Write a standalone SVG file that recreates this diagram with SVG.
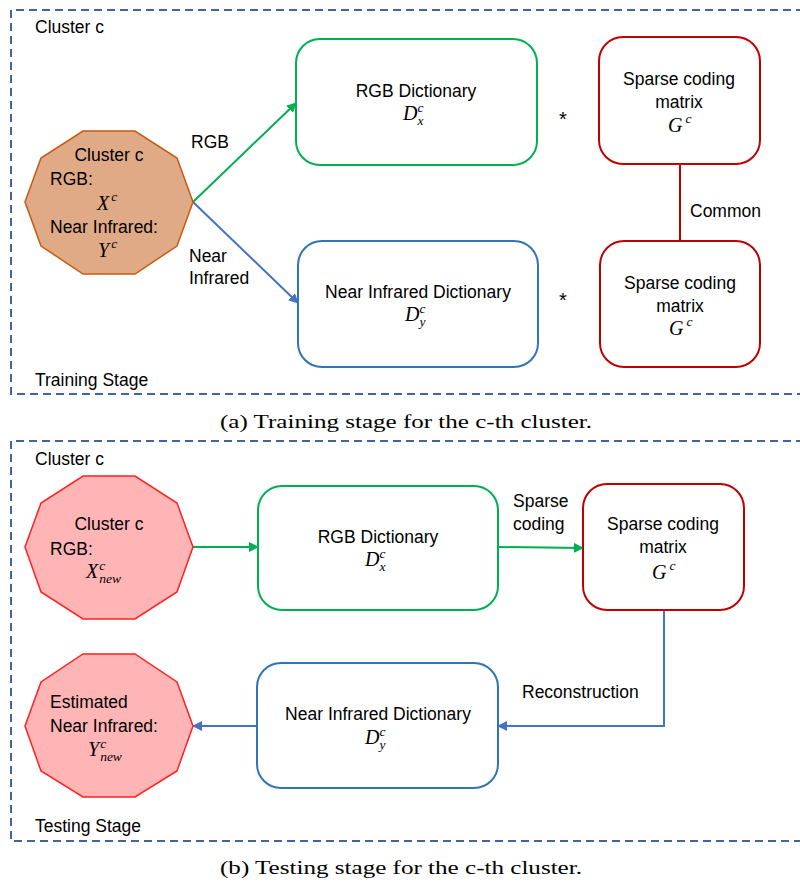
<svg xmlns="http://www.w3.org/2000/svg" width="800" height="883" viewBox="0 0 800 883">
<defs>
<style>
.t{font-family:"Liberation Sans","Open Sans",sans-serif;font-size:17.5px;fill:#000}
.m{font-family:"Liberation Serif","Times New Roman",serif;font-style:italic;font-size:20px;fill:#000}
.s{font-size:13.5px}
.cap{font-family:"Liberation Serif","Times New Roman",serif;font-size:18px;fill:#000}
.frame{fill:none;stroke:#44659c;stroke-width:2;stroke-dasharray:8 5}
.green{fill:#fff;stroke:#00b050;stroke-width:2}
.blue{fill:#fff;stroke:#2e75b6;stroke-width:2}
.red{fill:#fff;stroke:#c00000;stroke-width:2}
.oct1{fill:#e0aa87;stroke:#c55a11;stroke-width:1.5}
.oct2{fill:#ffb5b5;stroke:#ff2020;stroke-width:1.5}
.lg{fill:none;stroke:#00b050;stroke-width:2}
.lb{fill:none;stroke:#4472c4;stroke-width:2}
.lr{fill:none;stroke:#c00000;stroke-width:2}
.star{font-family:"Liberation Sans",sans-serif;font-size:20px;fill:#000}
</style>
<marker id="ag" viewBox="0 0 10 10" refX="9" refY="5" markerWidth="5" markerHeight="5" orient="auto"><path d="M0,0 L10,5 L0,10 z" fill="#00b050"/></marker>
<marker id="ab" viewBox="0 0 10 10" refX="9" refY="5" markerWidth="5" markerHeight="5" orient="auto"><path d="M0,0 L10,5 L0,10 z" fill="#4472c4"/></marker>
</defs>

<!-- Frames -->
<g id="frames">
<path class="frame" d="M804,10 H11 V394 H804"/>
<path class="frame" d="M804,441 H11 V841 H804"/>
</g>

<!-- Stage labels and captions -->
<g id="labels">
<text class="t" x="35" y="33">Cluster c</text>
<text class="t" x="35" y="386">Training Stage</text>
<text class="cap" x="406" y="428" text-anchor="middle" textLength="372" lengthAdjust="spacingAndGlyphs">(a) Training stage for the c-th cluster.</text>
<text class="t" x="35" y="465">Cluster c</text>
<text class="t" x="35" y="832">Testing Stage</text>
<text class="cap" x="401" y="874" text-anchor="middle" textLength="362" lengthAdjust="spacingAndGlyphs">(b) Testing stage for the c-th cluster.</text>
</g>

<!-- Connectors -->
<g id="connectors">
<line class="lg" x1="193" y1="202" x2="296" y2="103" marker-end="url(#ag)"/>
<line class="lb" x1="193" y1="202" x2="298" y2="303" marker-end="url(#ab)"/>
<line class="lr" x1="680" y1="164" x2="680" y2="241"/>
<line class="lg" x1="193" y1="547" x2="258" y2="547" marker-end="url(#ag)"/>
<line class="lg" x1="498" y1="547" x2="583" y2="548" marker-end="url(#ag)"/>
<polyline class="lb" points="664,610 664,726 498,726" marker-end="url(#ab)"/>
<line class="lb" x1="257" y1="726" x2="193" y2="726" marker-end="url(#ab)"/>
<text class="t" x="191" y="148">RGB</text>
<text class="t" x="189" y="262">Near</text>
<text class="t" x="189" y="284">Infrared</text>
<text class="t" x="690" y="217">Common</text>
<text class="t" x="513" y="507">Sparse</text>
<text class="t" x="513" y="530">coding</text>
<text class="t" x="522" y="698">Reconstruction</text>
<text class="star" x="563" y="126" text-anchor="middle">*</text>
<text class="star" x="563" y="307" text-anchor="middle">*</text>
</g>

<!-- Training nodes -->
<g id="train-cluster">
<polygon class="oct1" points="83,131 135,131 177,158 193,202 177,246 135,274 83,274 41,246 25,202 41,158"/>
<text class="t" x="109" y="161" text-anchor="middle">Cluster c</text>
<text class="t" x="50" y="185">RGB:</text>
<text class="m" x="97" y="210">X<tspan class="s" dx="2" dy="-9">c</tspan></text>
<text class="t" x="50" y="233">Near Infrared:</text>
<text class="m" x="98" y="257">Y<tspan class="s" dx="2" dy="-9">c</tspan></text>
</g>

<g id="train-rgb-dict">
<rect class="green" x="296" y="39" width="241" height="126" rx="24"/>
<text class="t" x="416" y="97" text-anchor="middle">RGB Dictionary</text>
<text class="m" x="403" y="120">D<tspan class="s" dx="0" dy="-8">c</tspan><tspan class="s" dx="-6" dy="13">x</tspan></text>
</g>

<g id="train-nir-dict">
<rect class="blue" x="298" y="241" width="240" height="126" rx="24"/>
<text class="t" x="418" y="298" text-anchor="middle">Near Infrared Dictionary</text>
<text class="m" x="405" y="321">D<tspan class="s" dx="0" dy="-8">c</tspan><tspan class="s" dx="-6" dy="13">y</tspan></text>
</g>

<g id="train-g1">
<rect class="red" x="599" y="37" width="161" height="127" rx="24"/>
<text class="t" x="679" y="85" text-anchor="middle">Sparse coding</text>
<text class="t" x="679" y="108" text-anchor="middle">matrix</text>
<text class="m" x="668" y="132">G<tspan class="s" dx="3" dy="-9">c</tspan></text>
</g>

<g id="train-g2">
<rect class="red" x="600" y="241" width="160" height="126" rx="24"/>
<text class="t" x="680" y="289" text-anchor="middle">Sparse coding</text>
<text class="t" x="680" y="312" text-anchor="middle">matrix</text>
<text class="m" x="669" y="335">G<tspan class="s" dx="3" dy="-9">c</tspan></text>
</g>

<!-- Testing nodes -->
<g id="test-cluster">
<polygon class="oct2" points="83,476 135,476 177,503 193,547 177,592 135,619 83,619 41,592 25,547 41,503"/>
<text class="t" x="109" y="530" text-anchor="middle">Cluster c</text>
<text class="t" x="50" y="555">RGB:</text>
<text class="m" x="86" y="578">X<tspan class="s" dx="1" dy="-8">c</tspan><tspan class="s" dx="-6" dy="13">new</tspan></text>
</g>

<g id="test-rgb-dict">
<rect class="green" x="258" y="486" width="240" height="124" rx="24"/>
<text class="t" x="378" y="543" text-anchor="middle">RGB Dictionary</text>
<text class="m" x="365" y="566">D<tspan class="s" dx="0" dy="-8">c</tspan><tspan class="s" dx="-6" dy="13">x</tspan></text>
</g>

<g id="test-g">
<rect class="red" x="583" y="484" width="161" height="126" rx="24"/>
<text class="t" x="663" y="530" text-anchor="middle">Sparse coding</text>
<text class="t" x="663" y="553" text-anchor="middle">matrix</text>
<text class="m" x="652" y="579">G<tspan class="s" dx="3" dy="-9">c</tspan></text>
</g>

<g id="test-nir-dict">
<rect class="blue" x="257" y="663" width="241" height="125" rx="24"/>
<text class="t" x="378" y="720" text-anchor="middle">Near Infrared Dictionary</text>
<text class="m" x="365" y="744">D<tspan class="s" dx="0" dy="-8">c</tspan><tspan class="s" dx="-6" dy="13">y</tspan></text>
</g>

<g id="test-estimated">
<polygon class="oct2" points="83,654 135,654 177,682 193,726 177,771 135,797 83,797 41,771 25,726 41,682"/>
<text class="t" x="50" y="708">Estimated</text>
<text class="t" x="50" y="732">Near Infrared:</text>
<text class="m" x="88" y="756">Y<tspan class="s" dx="1" dy="-8">c</tspan><tspan class="s" dx="-6" dy="13">new</tspan></text>
</g>
</svg>
